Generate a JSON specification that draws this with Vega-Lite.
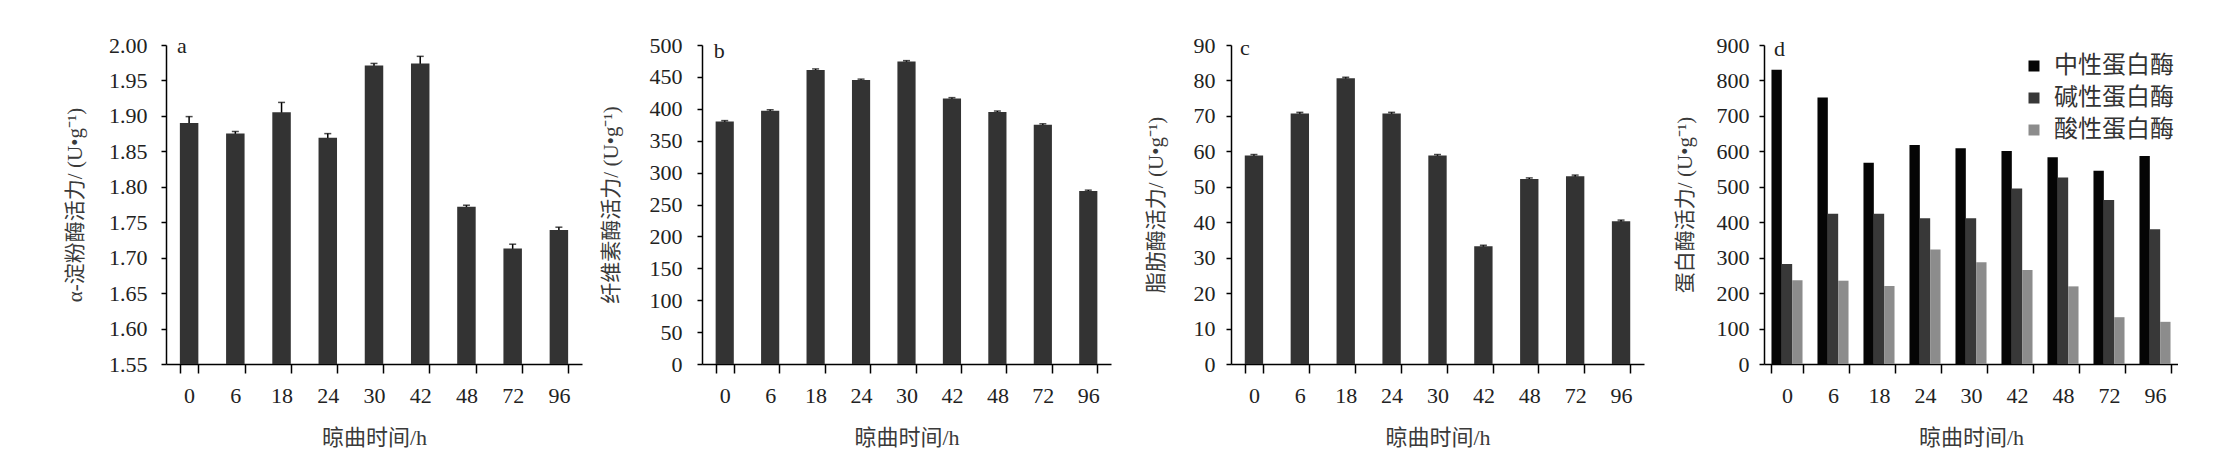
{
  "$schema": "https://vega.github.io/schema/vega-lite/v6.json",
  "background": "white",
  "padding": {"left": 64, "top": 34, "right": 0, "bottom": 0},
  "datasets": {
    "a": [
      {"t": "0", "v": 1.890, "e": 0.009},
      {"t": "6", "v": 1.875, "e": 0.003},
      {"t": "18", "v": 1.905, "e": 0.014},
      {"t": "24", "v": 1.869, "e": 0.006},
      {"t": "30", "v": 1.971, "e": 0.003},
      {"t": "42", "v": 1.974, "e": 0.010},
      {"t": "48", "v": 1.772, "e": 0.002},
      {"t": "72", "v": 1.713, "e": 0.006},
      {"t": "96", "v": 1.739, "e": 0.004}
    ],
    "b": [
      {"t": "0", "v": 380, "e": 1.5},
      {"t": "6", "v": 397, "e": 1.5},
      {"t": "18", "v": 461, "e": 1.5},
      {"t": "24", "v": 445, "e": 1.5},
      {"t": "30", "v": 474, "e": 1.5},
      {"t": "42", "v": 416, "e": 1.5},
      {"t": "48", "v": 395, "e": 1.5},
      {"t": "72", "v": 375, "e": 1.5},
      {"t": "96", "v": 271, "e": 1.5}
    ],
    "c": [
      {"t": "0", "v": 58.8, "e": 0.3},
      {"t": "6", "v": 70.7, "e": 0.3},
      {"t": "18", "v": 80.6, "e": 0.3},
      {"t": "24", "v": 70.7, "e": 0.3},
      {"t": "30", "v": 58.8, "e": 0.3},
      {"t": "42", "v": 33.2, "e": 0.3},
      {"t": "48", "v": 52.2, "e": 0.3},
      {"t": "72", "v": 53.0, "e": 0.3},
      {"t": "96", "v": 40.3, "e": 0.3}
    ],
    "d": [
      {"t": "0", "s": "中性蛋白酶", "v": 830},
      {"t": "0", "s": "碱性蛋白酶", "v": 282},
      {"t": "0", "s": "酸性蛋白酶", "v": 236},
      {"t": "6", "s": "中性蛋白酶", "v": 752},
      {"t": "6", "s": "碱性蛋白酶", "v": 424},
      {"t": "6", "s": "酸性蛋白酶", "v": 235},
      {"t": "18", "s": "中性蛋白酶", "v": 568},
      {"t": "18", "s": "碱性蛋白酶", "v": 424},
      {"t": "18", "s": "酸性蛋白酶", "v": 220},
      {"t": "24", "s": "中性蛋白酶", "v": 618},
      {"t": "24", "s": "碱性蛋白酶", "v": 411},
      {"t": "24", "s": "酸性蛋白酶", "v": 323},
      {"t": "30", "s": "中性蛋白酶", "v": 609},
      {"t": "30", "s": "碱性蛋白酶", "v": 411},
      {"t": "30", "s": "酸性蛋白酶", "v": 287},
      {"t": "42", "s": "中性蛋白酶", "v": 601},
      {"t": "42", "s": "碱性蛋白酶", "v": 495},
      {"t": "42", "s": "酸性蛋白酶", "v": 265},
      {"t": "48", "s": "中性蛋白酶", "v": 583},
      {"t": "48", "s": "碱性蛋白酶", "v": 526},
      {"t": "48", "s": "酸性蛋白酶", "v": 219},
      {"t": "72", "s": "中性蛋白酶", "v": 545},
      {"t": "72", "s": "碱性蛋白酶", "v": 463},
      {"t": "72", "s": "酸性蛋白酶", "v": 132},
      {"t": "96", "s": "中性蛋白酶", "v": 587},
      {"t": "96", "s": "碱性蛋白酶", "v": 380},
      {"t": "96", "s": "酸性蛋白酶", "v": 119}
    ]
  },
  "bounds": "flush",
  "spacing": 120,
  "hconcat": [
    {
      "width": 416, "height": 319,
      "encoding": {
        "x": {"field": "t", "type": "ordinal", "sort": null, "scale": {"paddingInner": 0.6, "paddingOuter": 0.3}, "axis": {"title": "晾曲时间/h"}},
        "y": {"field": "v", "type": "quantitative", "scale": {"domain": [1.55, 2.0], "zero": false, "nice": false},
              "axis": {"title": "α-淀粉酶活力/ (U•g⁻¹)", "values": [1.55, 1.6, 1.65, 1.7, 1.75, 1.8, 1.85, 1.9, 1.95, 2.0], "format": ".2f", "labelPadding": 14, "titleX": -81}}
      },
      "layer": [
        {"data": {"name": "a"}, "mark": {"type": "errorbar", "ticks": {"size": 7}, "color": "#000", "thickness": 1.5}, "encoding": {"yError": {"field": "e"}}},
        {"data": {"name": "a"}, "mark": {"type": "bar", "color": "#333333", "clip": true}},
        {"data": {"values": [{"t": "0", "v": 2.0, "p": "a"}]}, "mark": {"type": "text", "align": "left", "baseline": "alphabetic", "dx": -12, "dy": 8, "fontSize": 22, "font": "Liberation Serif", "color": "#222"},
         "encoding": {"text": {"field": "p"}}}
      ]
    },
    {
      "width": 409, "height": 319,
      "encoding": {
        "x": {"field": "t", "type": "ordinal", "sort": null, "scale": {"paddingInner": 0.6, "paddingOuter": 0.3}, "axis": {"title": "晾曲时间/h"}},
        "y": {"field": "v", "type": "quantitative", "scale": {"domain": [0, 500], "nice": false},
              "axis": {"title": "纤维素酶活力/ (U•g⁻¹)", "values": [0, 50, 100, 150, 200, 250, 300, 350, 400, 450, 500], "labelPadding": 15, "titleX": -81}}
      },
      "layer": [
        {"data": {"name": "b"}, "mark": {"type": "errorbar", "ticks": {"size": 7}, "color": "#000", "thickness": 1.5}, "encoding": {"yError": {"field": "e"}}},
        {"data": {"name": "b"}, "mark": {"type": "bar", "color": "#333333"}},
        {"data": {"values": [{"t": "0", "v": 500, "p": "b"}]}, "mark": {"type": "text", "align": "left", "baseline": "alphabetic", "dx": -11, "dy": 13, "fontSize": 22, "font": "Liberation Serif", "color": "#222"},
         "encoding": {"text": {"field": "p"}}}
      ]
    },
    {
      "width": 413, "height": 319,
      "encoding": {
        "x": {"field": "t", "type": "ordinal", "sort": null, "scale": {"paddingInner": 0.6, "paddingOuter": 0.3}, "axis": {"title": "晾曲时间/h"}},
        "y": {"field": "v", "type": "quantitative", "scale": {"domain": [0, 90], "nice": false},
              "axis": {"title": "脂肪酶活力/ (U•g⁻¹)", "values": [0, 10, 20, 30, 40, 50, 60, 70, 80, 90], "labelPadding": 11, "titleX": -65}}
      },
      "layer": [
        {"data": {"name": "c"}, "mark": {"type": "errorbar", "ticks": {"size": 7}, "color": "#000", "thickness": 1.5}, "encoding": {"yError": {"field": "e"}}},
        {"data": {"name": "c"}, "mark": {"type": "bar", "color": "#333333"}},
        {"data": {"values": [{"t": "0", "v": 90, "p": "c"}]}, "mark": {"type": "text", "align": "left", "baseline": "alphabetic", "dx": -14, "dy": 10, "fontSize": 22, "font": "Liberation Serif", "color": "#222"},
         "encoding": {"text": {"field": "p"}}}
      ]
    },
    {
      "width": 414, "height": 319,
      "encoding": {
        "x": {"field": "t", "type": "ordinal", "sort": null, "scale": {"paddingInner": 0.325, "paddingOuter": 0.1625}, "axis": {"title": "晾曲时间/h"}},
        "y": {"field": "v", "type": "quantitative", "scale": {"domain": [0, 900], "nice": false},
              "axis": {"title": "蛋白酶活力/ (U•g⁻¹)", "values": [0, 100, 200, 300, 400, 500, 600, 700, 800, 900], "labelPadding": 10, "titleX": -69}}
      },
      "layer": [
        {
          "data": {"name": "d"},
          "mark": {"type": "bar"},
          "encoding": {
            "xOffset": {"field": "s", "type": "nominal", "sort": ["中性蛋白酶", "碱性蛋白酶", "酸性蛋白酶"], "scale": {"paddingInner": 0, "paddingOuter": 0}},
            "color": {"field": "s", "type": "nominal",
                      "scale": {"domain": ["中性蛋白酶", "碱性蛋白酶", "酸性蛋白酶"], "range": ["#050505", "#383838", "#8c8c8c"]},
                      "legend": {"title": null, "orient": "none", "legendX": 1856, "legendY": 9, "symbolType": "square", "symbolSize": 121, "symbolStrokeWidth": 0, "labelFontSize": 24, "labelFont": "Noto Sans CJK SC", "labelColor": "#333", "labelOffset": 8, "rowPadding": 8, "padding": 0}}
          }
        },
        {"data": {"values": [{"t": "0", "v": 900, "p": "d"}]}, "mark": {"type": "text", "align": "left", "baseline": "alphabetic", "dx": -13, "dy": 11, "fontSize": 22, "font": "Liberation Serif", "color": "#222"},
         "encoding": {"text": {"field": "p"}}}
      ]
    }
  ],
  "config": {
    "view": {"stroke": null},
    "font": "Liberation Serif, Noto Sans CJK SC",
    "axis": {"grid": false, "domainColor": "#000", "domainWidth": 1.5, "tickColor": "#000", "tickWidth": 1.5,
             "labelFont": "Liberation Serif", "labelFontSize": 22, "labelColor": "#222",
             "titleFont": "Liberation Serif, Noto Sans CJK SC", "titleFontSize": 21, "titleFontWeight": "normal", "titleColor": "#3a3a3a"},
    "axisX": {"tickBand": "extent", "tickSize": 9, "labelPadding": 12, "labelAngle": 0, "titlePadding": 21, "titleFontSize": 22},
    "axisY": {"tickSize": 5}
  }
}
